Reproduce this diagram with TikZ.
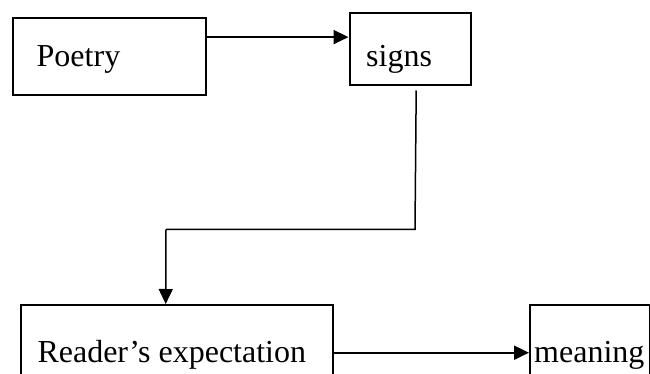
\documentclass[tikz,border=0pt]{standalone}
\usepackage{fontspec}
\setmainfont{Liberation Serif}
\usetikzlibrary{arrows.meta}
\begin{document}
\begin{tikzpicture}[x=1pt,y=-1pt,
  box/.style={draw=black,line width=2.2pt,rectangle,inner sep=0pt,anchor=north west},
  lbl/.style={anchor=base west,inner sep=0pt,font=\fontsize{32}{38}\selectfont},
  tip/.style={-{Triangle[length=15pt,width=14pt]}},
  arr/.style={line width=2pt,tip},
  elb/.style={line width=1.5pt}]
\useasboundingbox (0,0) rectangle (650,374);
\clip (0,0) rectangle (650,374);
\node[box,minimum width=193pt,minimum height=77.6pt] (poetry) at (11.6,16.7) {};
\node[box,minimum width=121.2pt,minimum height=72.3pt] (signs) at (348.5,12) {};
\node[box,minimum width=312pt,minimum height=100pt] (reader) at (19.9,304) {};
\node[box,minimum width=119.5pt,minimum height=100pt] (meaning) at (529,304) {};
\node[lbl] (tpoetry) at (36.5,66.7) {Poetry};
\node[lbl] (tsigns) at (366,66.7) {signs};
\node[lbl] (treader) at (37.3,362) {Reader’s expectation};
\node[lbl] (tmeaning) at (534,362) {meaning};
\coordinate (a1) at ([yshift=19.5pt]poetry.east);
\draw[arr] (a1) -- (a1 -| signs.west);
\coordinate (s1) at ([xshift=6pt,yshift=-4pt]signs.south);
\coordinate (k1) at (415,229.3);
\coordinate (k2) at (166,229.3);
\draw[elb] (s1) -- (k1) -- (k2);
\draw[elb,tip] (k2) -- ([xshift=-11.3pt]reader.north);
\coordinate (a2) at (reader.east |- 0,352.7);
\draw[arr] (a2) -- (a2 -| meaning.west);
\end{tikzpicture}
\end{document}
